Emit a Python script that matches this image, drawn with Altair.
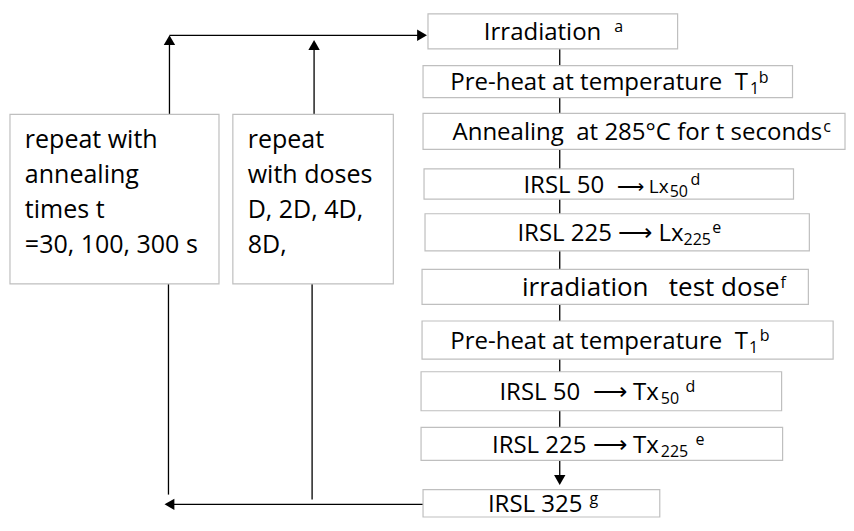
import altair as alt
import pandas as pd

NB = "\u00a0"
ARR = "\u27f6"

# ---- flowchart steps (right column): box extents ----
step_x0 = [432, 427, 427, 428, 429, 426, 426, 425, 425, 427]
step_x1 = [684, 800, 853, 801, 817, 816, 841, 789, 790, 666]
step_y0 = [14, 67, 116, 173, 219, 276, 329, 381, 438, 502]
step_y1 = [50, 100, 153, 204, 257, 312, 368, 421, 472, 530]

# ---- text pieces of each step (main text, small text, subscripts, superscripts) ----
piece_box = [0, 0,
             1, 1, 1,
             2, 2,
             3, 3, 3, 3,
             4, 4, 4,
             5, 5,
             6, 6, 6,
             7, 7, 7,
             8, 8, 8,
             9, 9]
piece_text = ["Irradiation", "a",
              "Pre-heat at temperature" + NB + " T", "1", "b",
              "Annealing" + NB + " at 285°C for t seconds", "c",
              "IRSL 50", ARR + " Lx", "50", "d",
              "IRSL 225 " + ARR + " Lx", "225", "e",
              "irradiation" + NB + NB + " test dose", "f",
              "Pre-heat at temperature" + NB + " T", "1", "b",
              "IRSL 50" + NB + " " + ARR + " Tx", "50", "d",
              "IRSL 225 " + ARR + " Tx", "225", "e",
              "IRSL 325", "g"]
piece_x = [607, 620,
           755, 757, 766,
           830, 831,
           610, 675, 676, 697,
           690, 690, 719,
           787, 788,
           755, 756, 767,
           665, 667, 692,
           665, 667, 702,
           588, 595]
piece_role = ["main", "sup",
              "main", "sub", "sup",
              "main", "sup",
              "main", "small", "sub", "sup",
              "main", "sub", "sup",
              "wide", "sup",
              "main", "sub", "sup",
              "main", "sub", "sup",
              "main", "sub", "sup",
              "main", "sup"]

# ---- loop boxes (left) ----
loop_labels = [
    "repeat with\nannealing\ntimes t\n=30, 100, 300 s",
    "repeat\nwith doses\nD, 2D, 4D,\n8D,",
]
loop_x0 = [10, 235]
loop_x1 = [221, 397]
loop_y0 = [117, 117]
loop_y1 = [291, 291]

# ---- connector segments ----
seg_x = [171, 171, 317, 565, 170, 315, 427]
seg_y = [117, 36, 117, 50, 291, 291, 517]
seg_x2 = [171, 428, 317, 565, 170, 315, 172]
seg_y2 = [40, 36, 46, 493, 507, 512, 517]

# ---- arrow heads ----
head_x = [171, 317, 426, 565, 171]
head_y = [41, 46, 36, 492, 517]
head_shape = ["triangle-up", "triangle-up", "triangle-right", "triangle-down", "triangle-left"]

W, H = 838, 510
xs = alt.Scale(domain=[8, 854], nice=False, zero=False)
ys = alt.Scale(domain=[8, 531], nice=False, zero=False, reverse=True)
FONT = "Open Sans"

steps = pd.DataFrame({"x0": step_x0, "x1": step_x1, "y0": step_y0, "y1": step_y1})
steps["cy"] = (steps.y0 + steps.y1) / 2

role_dy = {"main": 9, "wide": 9, "small": 9, "sub": 13, "sup": 1}
role_fs = {"main": 24, "wide": 26, "small": 19, "sub": 16, "sup": 16}
pieces = pd.DataFrame({"box": piece_box, "text": piece_text, "x": piece_x, "role": piece_role})
pieces["y"] = [steps.cy[b] + role_dy[r] for b, r in zip(pieces.box, pieces.role)]
pieces["fs"] = [role_fs[r] for r in pieces.role]

loops = pd.DataFrame({"label": loop_labels, "x0": loop_x0, "x1": loop_x1,
                      "y0": loop_y0, "y1": loop_y1})
loops["tx"] = loops.x0 + 15
loops["ty"] = loops.y0 + 35

segs = pd.DataFrame({"x": seg_x, "y": seg_y, "x2": seg_x2, "y2": seg_y2})
heads = pd.DataFrame({"x": head_x, "y": head_y, "shape": head_shape})

lines = alt.Chart(segs).mark_rule(color="black", strokeWidth=1.3).encode(
    x=alt.X("x:Q", scale=xs, axis=None),
    y=alt.Y("y:Q", scale=ys, axis=None),
    x2="x2:Q", y2="y2:Q",
)

arrow = alt.Chart(heads).mark_point(filled=True, color="black", opacity=1, size=130).encode(
    x=alt.X("x:Q", scale=xs, axis=None),
    y=alt.Y("y:Q", scale=ys, axis=None),
    shape=alt.Shape("shape:N", scale=None, legend=None),
)

step_boxes = alt.Chart(steps).mark_rect(fill="white", stroke="#bfbfbf", strokeWidth=1.2).encode(
    x=alt.X("x0:Q", scale=xs, axis=None), x2="x1:Q",
    y=alt.Y("y0:Q", scale=ys, axis=None), y2="y1:Q",
)


def piece_layer(roles, align):
    return alt.Chart(pieces).transform_filter(
        alt.FieldOneOfPredicate(field="role", oneOf=roles)
    ).mark_text(font=FONT, color="black", align=align, baseline="alphabetic").encode(
        x=alt.X("x:Q", scale=xs, axis=None),
        y=alt.Y("y:Q", scale=ys, axis=None),
        text="text:N",
        size=alt.Size("fs:Q", scale=None, legend=None),
    )


loop_boxes = alt.Chart(loops).mark_rect(fill="white", stroke="#bfbfbf", strokeWidth=1.2).encode(
    x=alt.X("x0:Q", scale=xs, axis=None), x2="x1:Q",
    y=alt.Y("y0:Q", scale=ys, axis=None), y2="y1:Q",
)
loop_text = alt.Chart(loops).mark_text(font=FONT, fontSize=25, color="black",
                                       align="left", baseline="alphabetic",
                                       lineBreak="\n", lineHeight=35).encode(
    x=alt.X("tx:Q", scale=xs, axis=None),
    y=alt.Y("ty:Q", scale=ys, axis=None),
    text="label:N",
)

chart = alt.layer(lines, arrow, step_boxes, loop_boxes,
                  piece_layer(["main", "small", "wide"], "right"),
                  piece_layer(["sub", "sup"], "left"),
                  loop_text).properties(
    width=W, height=H, padding=0, autosize=alt.AutoSizeParams(type="none"),
    background="white",
).configure_view(stroke=None)

chart.save("out.html", embed_options={"renderer": "svg", "actions": False})
